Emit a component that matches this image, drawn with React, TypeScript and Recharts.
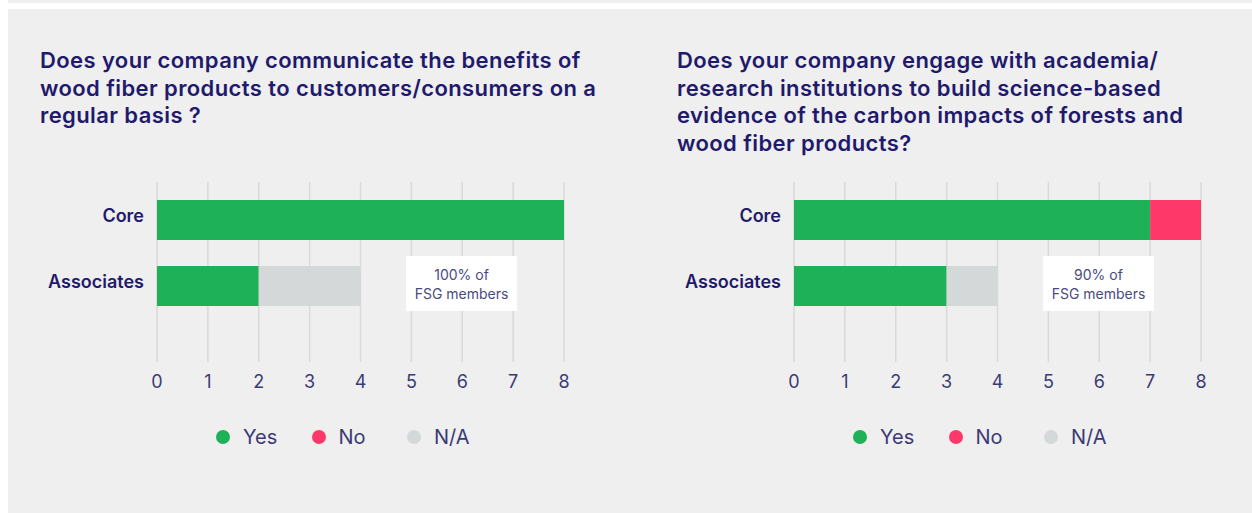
import { Bar, BarChart, CartesianGrid, Legend, XAxis, YAxis } from "recharts";

const categories = ["Core", "Associates"];
const xTicks = [0, 1, 2, 3, 4, 5, 6, 7, 8];

const commYes = [8, 2];
const commNo = [0, 0];
const commNa = [0, 2];

const academiaYes = [7, 3];
const academiaNo = [1, 0];
const academiaNa = [0, 1];

const seriesNames = ["Yes", "No", "N/A"];
const seriesColors = ["#1fb158", "#ff386a", "#d5d8d9"];

const commTitle = [
  "Does your company communicate the benefits of",
  "wood fiber products to customers/consumers on a",
  "regular basis ?",
];
const academiaTitle = [
  "Does your company engage with academia/",
  "research institutions to build science-based",
  "evidence of the carbon impacts of forests and",
  "wood fiber products?",
];

const commNote = ["100% of", "FSG members"];
const academiaNote = ["90% of", "FSG members"];

const FONT = "Inter, 'Noto Sans', sans-serif";
const NAVY = "#1f1a6b";
const SOFT = "#3b3a75";

function buildRows(yes: number[], no: number[], na: number[]) {
  return categories.map((name, i) => ({ name, yes: yes[i], no: no[i], na: na[i] }));
}

function LegendRow() {
  return (
    <div style={{ display: "flex", paddingLeft: 196, fontFamily: FONT }}>
      {seriesNames.map((n, i) => (
        <div key={n} style={{ display: "flex", alignItems: "center", width: 95.5, height: 24 }}>
          <span
            style={{
              width: 14,
              height: 14,
              borderRadius: 7,
              background: seriesColors[i],
              marginRight: 13,
              flexShrink: 0,
            }}
          />
          <span style={{ fontSize: 20, color: SOFT, whiteSpace: "nowrap" }}>{n}</span>
        </div>
      ))}
    </div>
  );
}

function CategoryTick(props: any) {
  const { x, y, payload } = props;
  return (
    <text
      x={x}
      y={y}
      dy={2}
      textAnchor="end"
      fontSize={18}
      fontWeight={600}
      fill={NAVY}
      fontFamily={FONT}
    >
      {payload.value}
    </text>
  );
}

type PanelProps = {
  left: number;
  title: string[];
  note: string[];
  yes: number[];
  no: number[];
  na: number[];
};

function Panel({ left, title, note, yes, no, na }: PanelProps) {
  const rows = buildRows(yes, no, na);
  return (
    <>
      <div
        style={{
          position: "absolute",
          left: left + 20,
          top: 47,
          fontFamily: FONT,
          fontWeight: 600,
          fontSize: 22,
          letterSpacing: "0.4px",
          lineHeight: "27.6px",
          color: NAVY,
          whiteSpace: "nowrap",
        }}
      >
        {title.map((t) => (
          <div key={t}>{t}</div>
        ))}
      </div>
      <div style={{ position: "absolute", left, top: 170 }}>
        <BarChart
          width={580}
          height={279}
          data={rows}
          layout="vertical"
          margin={{ top: 12, right: 36, bottom: 0, left: 0 }}
          barSize={40}
        >
          <CartesianGrid horizontal={false} stroke="#d9d9d9" strokeWidth={1.5} />
          <XAxis
            type="number"
            domain={[0, 8]}
            ticks={xTicks}
            axisLine={false}
            tickLine={false}
            tickSize={0}
            tickMargin={13}
            height={63}
            tick={{ fontSize: 18, fill: SOFT, fontFamily: FONT }}
          />
          <YAxis
            type="category"
            dataKey="name"
            width={137}
            axisLine={false}
            tickLine={false}
            tickSize={0}
            tickMargin={13}
            padding={{ top: 5, bottom: 43 }}
            tick={<CategoryTick />}
          />
          <Bar dataKey="yes" name="Yes" stackId="a" fill={seriesColors[0]} isAnimationActive={false} />
          <Bar dataKey="no" name="No" stackId="a" fill={seriesColors[1]} isAnimationActive={false} />
          <Bar dataKey="na" name="N/A" stackId="a" fill={seriesColors[2]} isAnimationActive={false} />
          <Legend
            verticalAlign="bottom"
            content={() => <LegendRow />}
            wrapperStyle={{ left: 0, width: 580 }}
          />
        </BarChart>
      </div>
      <div
        style={{
          position: "absolute",
          left: left + 386,
          top: 256,
          width: 111,
          height: 55,
          background: "#ffffff",
          display: "flex",
          flexDirection: "column",
          justifyContent: "center",
          alignItems: "center",
          fontFamily: FONT,
          fontSize: 14,
          lineHeight: "19px",
          color: "#4b4a80",
        }}
      >
        {note.map((t) => (
          <div key={t}>{t}</div>
        ))}
      </div>
    </>
  );
}

export default function App() {
  return (
    <div
      style={{
        position: "fixed",
        left: 0,
        top: 0,
        width: 1252,
        height: 513,
        background: "#ffffff",
        overflow: "hidden",
      }}
    >
      <div style={{ position: "absolute", left: 8, top: 0, width: 1244, height: 3, background: "#efefef" }} />
      <div style={{ position: "absolute", left: 8, top: 9, width: 1244, height: 504, background: "#efefef" }} />
      <Panel left={20} title={commTitle} note={commNote} yes={commYes} no={commNo} na={commNa} />
      <Panel
        left={657}
        title={academiaTitle}
        note={academiaNote}
        yes={academiaYes}
        no={academiaNo}
        na={academiaNa}
      />
    </div>
  );
}
